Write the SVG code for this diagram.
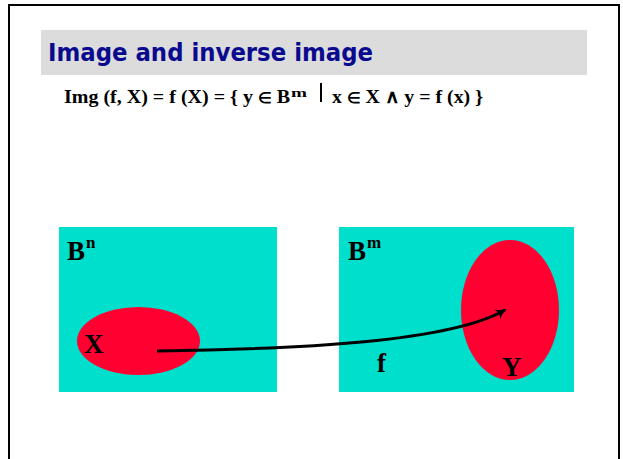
<svg xmlns="http://www.w3.org/2000/svg" width="623" height="459" viewBox="0 0 623 459">
<style>
.box{fill:#00dfcc}
.blob{fill:#ff0030}
.lbl{font-family:"Liberation Serif","Times New Roman",serif;font-weight:bold;fill:#000}
.title{font-family:"Comic Sans MS","DejaVu Sans",sans-serif;font-weight:bold;fill:#0a0a8f;font-size:25px}
.conn{fill:none;stroke:#000;stroke-width:3}
.sym{font-size:15px}
</style>
<defs>
<marker id="ah" markerWidth="14" markerHeight="14" refX="8" refY="5" orient="auto" markerUnits="userSpaceOnUse" viewBox="0 0 12 10">
<path d="M0,0 Q5,4 10,5 Q5,6 0,10 Q4,5 0,0 Z" fill="#000"/>
</marker>
</defs>
<rect x="0" y="0" width="623" height="459" fill="#fff"/>
<rect x="9" y="5" width="610" height="470" fill="none" stroke="#000" stroke-width="2"/>
<g id="title">
<rect x="41" y="30" width="546" height="45" fill="#dcdcdc"/>
<text class="title" x="48" y="61" textLength="325" lengthAdjust="spacingAndGlyphs">Image and inverse image</text>
</g>
<g id="formula" class="lbl" font-size="19">
<text x="64" y="103" textLength="226" lengthAdjust="spacingAndGlyphs">Img (f, X) = f (X) = { y <tspan class="sym">∈</tspan> B</text>
<text x="291" y="97" font-size="12" textLength="16" lengthAdjust="spacingAndGlyphs">m</text>
<line x1="321" y1="83" x2="321" y2="102" stroke="#000" stroke-width="2"/>
<text x="332" y="103" textLength="151" lengthAdjust="spacingAndGlyphs">x <tspan class="sym">∈</tspan> X ∧ y = f (x) }</text>
</g>
<g id="setBn">
<rect class="box" x="59" y="227" width="218" height="165"/>
<text class="lbl" x="67" y="260" font-size="27">B</text>
<text class="lbl" x="86" y="248" font-size="17">n</text>
</g>
<g id="setBm">
<rect class="box" x="339" y="227" width="235" height="165"/>
<text class="lbl" x="348" y="260" font-size="27">B</text>
<text class="lbl" x="367" y="248" font-size="17">m</text>
</g>
<g id="setX">
<ellipse class="blob" cx="138.5" cy="341" rx="61.5" ry="34"/>
<text class="lbl" x="84" y="353" font-size="27">X</text>
</g>
<g id="setY">
<ellipse class="blob" cx="510" cy="310" rx="49" ry="70"/>
<text class="lbl" x="502" y="376" font-size="27">Y</text>
</g>
<g id="connectors">
<path class="conn" d="M157,351 C300,349 450,342 505,310" marker-end="url(#ah)"/>
<text class="lbl" x="377" y="372" font-size="27">f</text>
</g>
</svg>
